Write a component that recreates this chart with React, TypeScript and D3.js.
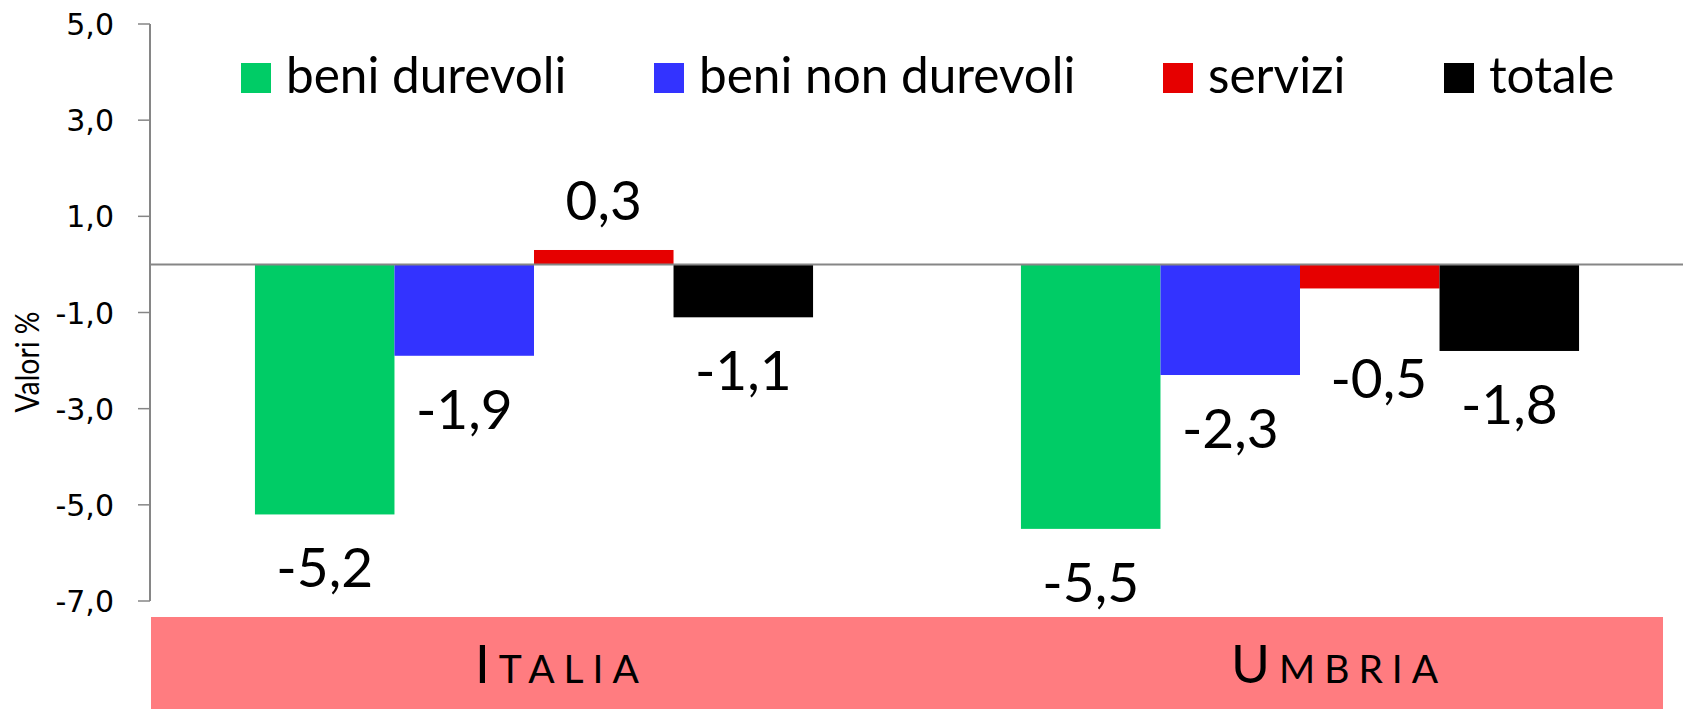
import React, { useEffect } from "react";
import * as d3 from "d3";

const categories = ["Italia", "Umbria"];
const seriesNames = ["beni durevoli", "beni non durevoli", "servizi", "totale"];
const seriesColors = ["#00CC66", "#3333FF", "#E60000", "#000000"];
const italiaValues = [-5.2, -1.9, 0.3, -1.1];
const umbriaValues = [-5.5, -2.3, -0.5, -1.8];
const yTicks = [5, 3, 1, -1, -3, -5, -7];

const values = [italiaValues, umbriaValues];

// layout constants
const W = 1683;
const H = 709;
const plotLeft = 150;
const plotRight = 1683;
const plotTop = 24;
const plotBottom = 601;
const legendX = [241, 654, 1163, 1444];
// manual label nudges (category index, series index) -> [dx, dy]
const labelNudge: Record<string, [number, number]> = { "1-2": [9, 37] };

const fmt = (v: number) => v.toFixed(1).replace(".", ",");

const smallCaps = (word: string) => ({
  first: word[0].toUpperCase(),
  rest: word.slice(1).toUpperCase(),
});

export default function App() {
  useEffect(() => {
    document.body.style.margin = "0";
  }, []);

  const y = d3.scaleLinear().domain([-7, 5]).range([plotBottom, plotTop]);
  const x0 = d3.scaleBand<string>().domain(categories).range([plotLeft + 1, plotRight]).paddingInner(0).paddingOuter(0);
  const x1 = d3
    .scaleBand<string>()
    .domain(seriesNames)
    .range([0, x0.bandwidth()])
    .paddingInner(0)
    .paddingOuter(0.745);
  const bandScale = d3.scaleBand<string>().domain(categories).range([plotLeft + 1, 1663]);

  const labelFont = "Lato, 'Open Sans', sans-serif";

  return (
    <svg
      width={W}
      height={H}
      style={{ position: "absolute", left: 0, top: 0, background: "#fff" }}
    >
      {/* y axis */}
      <line x1={plotLeft} x2={plotLeft} y1={plotTop} y2={plotBottom} stroke="#868686" strokeWidth={2} />
      {yTicks.map((t) => (
        <g key={t}>
          <line x1={plotLeft - 12} x2={plotLeft} y1={y(t)} y2={y(t)} stroke="#868686" strokeWidth={1.5} />
          <text
            x={114}
            y={y(t) + 11}
            textAnchor="end"
            fontFamily="'DejaVu Sans', Verdana, sans-serif"
            fontSize={30}
            fill="#000"
          >
            {fmt(t)}
          </text>
        </g>
      ))}
      <text
        transform={`translate(39, 362) rotate(-90) scale(0.86, 1)`}
        textAnchor="middle"
        fontFamily="Lato, sans-serif"
        fontSize={33}
        fill="#000"
      >
        Valori %
      </text>

      {/* bars */}
      {categories.map((c, ci) => (
        <g key={c} transform={`translate(${x0(c)},0)`}>
          {seriesNames.map((s, si) => {
            const v = values[ci][si];
            return (
              <rect
                key={s}
                x={x1(s)}
                width={x1.bandwidth()}
                y={Math.min(y(v), y(0))}
                height={Math.abs(y(v) - y(0))}
                fill={seriesColors[si]}
              />
            );
          })}
        </g>
      ))}

      {/* zero line */}
      <line x1={plotLeft} x2={plotRight} y1={y(0)} y2={y(0)} stroke="#868686" strokeWidth={2} />

      {/* data labels */}
      {categories.map((c, ci) =>
        seriesNames.map((s, si) => {
          const v = values[ci][si];
          const nudge = labelNudge[`${ci}-${si}`] || [0, 0];
          const cx = (x0(c) as number) + (x1(s) as number) + x1.bandwidth() / 2 + nudge[0];
          const by = v >= 0 ? y(v) - 30 : y(v) + 73;
          return (
            <text
              key={`${c}-${s}`}
              x={cx}
              y={by + nudge[1]}
              textAnchor="middle"
              fontFamily={labelFont}
              fontSize={55}
              fill="#000"
            >
              {fmt(v)}
            </text>
          );
        })
      )}

      {/* legend */}
      {seriesNames.map((s, si) => (
        <g key={s}>
          <rect x={legendX[si]} y={63} width={30} height={30} fill={seriesColors[si]} />
          <text
            x={legendX[si] + 45}
            y={92.5}
            fontFamily={labelFont}
            fontSize={49.5}
            fill="#000"
          >
            {s}
          </text>
        </g>
      ))}

      {/* category band */}
      <rect x={plotLeft + 1} y={617} width={1663 - plotLeft - 1} height={H - 617} fill="#FF7C80" />
      {categories.map((c) => {
        const sc = smallCaps(c);
        return (
          <text
            key={c}
            x={(bandScale(c) as number) + 324}
            y={683}
            fontFamily={labelFont}
            fill="#000"
            letterSpacing={9}
          >
            <tspan fontSize={53}>{sc.first}</tspan>
            <tspan fontSize={39}>{sc.rest}</tspan>
          </text>
        );
      })}
    </svg>
  );
}
